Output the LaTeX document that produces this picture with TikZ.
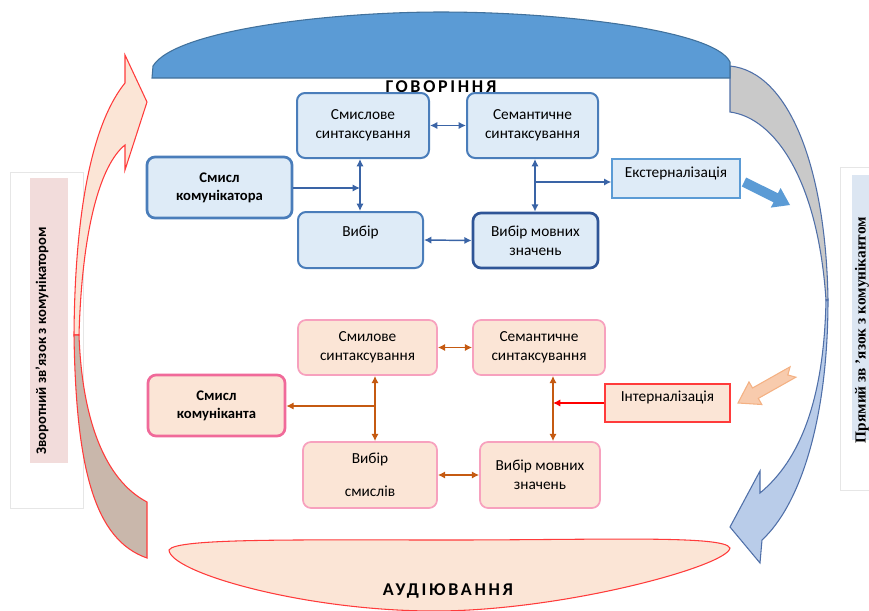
\documentclass[tikz,border=0pt]{standalone}
\usepackage{fontspec}
\setmainfont{Carlito}
\newfontfamily\serifface{Liberation Serif}
\newfontfamily\titleface[LetterSpace=15]{Carlito}
\usetikzlibrary{arrows.meta}
\definecolor{domefill}{HTML}{5B9BD5}
\definecolor{domeline}{HTML}{41719C}
\definecolor{ufill}{HTML}{DEEBF7}
\definecolor{ubord}{HTML}{4A7DBA}
\definecolor{ubordd}{HTML}{2F5597}
\definecolor{uline}{HTML}{3A64A6}
\definecolor{lfill}{HTML}{FBE5D6}
\definecolor{lbord}{HTML}{F7A1BE}
\definecolor{lbordd}{HTML}{F06A9A}
\definecolor{lline}{HTML}{C55A11}
\definecolor{redline}{HTML}{FF3B3B}
\definecolor{brownfill}{HTML}{C9B7AB}
\definecolor{greyfill}{HTML}{C9C9C9}
\definecolor{bluefill}{HTML}{B9CCE9}
\definecolor{arrline}{HTML}{4F6FA8}
\definecolor{pinkfill}{HTML}{F8CBAD}
\definecolor{pinkline}{HTML}{F4B183}
\definecolor{labpink}{HTML}{F2DCDB}
\definecolor{labblue}{HTML}{DCE6F2}
\definecolor{labline}{HTML}{E6E6E6}
\begin{document}
\begin{tikzpicture}[x=0.75pt,y=-0.75pt,
  boxfont/.style={font=\fontsize{11.5}{14.5}\selectfont},
  ubox/.style={draw=ubord, fill=ufill, line width=1.5pt, rounded corners=6pt, align=center, inner sep=0pt, boxfont},
  lbox/.style={draw=lbord, fill=lfill, line width=1.3pt, rounded corners=6pt, align=center, inner sep=0pt, boxfont},
  uarr/.style={draw=uline, line width=1.1pt, >={Latex[length=5.5pt,width=5.5pt]}},
  larr/.style={draw=lline, line width=1pt, >={Latex[length=5.5pt,width=5.5pt]}},
  title/.style={font=\titleface\bfseries\fontsize{13.5}{15}\selectfont}
]
\useasboundingbox (0,0) rectangle (869,611);

% side label boxes
\draw[labline, fill=white] (10,172) rectangle (83,508);
\fill[labpink] (30,178) rectangle (68,463);
\node[rotate=90, font=\bfseries\fontsize{11}{13}\selectfont] (lefttxt) at (42,341) {Зворотний зв’язок з комунікатором};
\draw[labline, fill=white] (840,167) rectangle (880,490);
\fill[labblue] (852,175) rectangle (869,440);
\node[rotate=90, font=\serifface\bfseries\fontsize{11.5}{13}\selectfont] (righttxt) at (862,330) {Прямий зв ’язок з комунікантом};

% left curved arrow
\draw[redline, line width=0.8pt, fill=lfill]
  (74,335) .. controls (75,200) and (95,120) .. (125,83)
  -- (125,55) -- (147,102) -- (125,170) -- (125,145)
  .. controls (100,165) and (82,230) .. (79,335) -- cycle;
\draw[redline, line width=0.8pt, fill=brownfill]
  (74,335) .. controls (76,470) and (95,540) .. (147,558)
  -- (147,502) .. controls (105,480) and (82,420) .. (79,335) -- cycle;

% right curved arrow
\draw[arrline, line width=0.8pt, fill=greyfill]
  (730,66) .. controls (790,72) and (826,170) .. (828,300)
  -- (826,300) .. controls (818,180) and (775,118) .. (730,112) -- cycle;
\draw[arrline, line width=0.8pt, fill=bluefill]
  (828,300) .. controls (828,420) and (800,505) .. (762,540)
  -- (760,563) -- (730,527) -- (760,471) -- (760,493)
  .. controls (800,460) and (824,400) .. (826,300) -- cycle;

% top dome
\draw[domeline, line width=0.8pt, fill=domefill]
  (152,78) -- (153,66) .. controls (175,30) and (330,12) .. (441,12)
  .. controls (560,12) and (715,30) .. (730,62) -- (730,78) -- cycle;
\node[title] (gov) at (441,87) {ГОВОРІННЯ};

% bottom shape
\draw[redline, line width=0.8pt, fill=lfill]
  (169,550) .. controls (175,538) and (300,540) .. (450,540)
  .. controls (600,540) and (725,535) .. (730,548)
  .. controls (728,566) and (560,612) .. (430,611)
  .. controls (300,610) and (170,572) .. (169,550) -- cycle;
\node[title] (aud) at (448,591) {АУДІЮВАННЯ};

% upper boxes
\node[ubox, minimum width=99pt, minimum height=48.75pt] (us1) at (363,125.5) {Смислове\\синтаксування};
\node[ubox, minimum width=98.25pt, minimum height=48.75pt] (us2) at (532.5,125.5) {Семантичне\\синтаксування};
\node[ubox, line width=2pt, minimum width=108.75pt, minimum height=45.75pt, font=\bfseries\fontsize{11}{13.5}\selectfont] (usm) at (219.5,187.5) {Смисл\\комунікатора};
\node[ubox, minimum width=93.75pt, minimum height=42pt, label={[boxfont, yshift=6pt]center:Вибір}] (uv) at (360.5,240) {};
\node[ubox, draw=ubordd, line width=2pt, minimum width=93.75pt, minimum height=41.25pt] (uvm) at (535.5,240.5) {Вибір мовних\\значень};
\node[draw=domefill, fill=ufill, line width=1pt, minimum width=96pt, minimum height=29.25pt, inner sep=0pt, label={[boxfont, yshift=4pt]center:Екстерналізація}] (ext) at (676,178.5) {};

% upper connectors
\coordinate (j1) at (360,188);
\coordinate (j2) at (535,182);
\draw[uarr, <->] (us1.east) -- (us2.west);
\draw[uarr, <->] (us1.south -| j1) -- (uv.north -| j1);
\draw[uarr, ->] (usm.east |- j1) -- (j1);
\draw[uarr, <->] (us2.south -| j2) -- (uvm.north -| j2);
\draw[uarr, ->] (j2) -- (ext.west |- j2);
\draw[uarr, <->] (uv.east) -- (uvm.west);

% externalisation block arrow
\fill[domefill] (746.2,177.5) -- (777.9,193.3) -- (780.6,188) -- (790,205)
  -- (770.8,207.6) -- (773.5,202.3) -- (741.8,186.5) -- cycle;

% lower boxes
\node[lbox, minimum width=104.25pt, minimum height=41.25pt] (ls1) at (367.5,347.5) {Смилове\\синтаксування};
\node[lbox, minimum width=99pt, minimum height=41.25pt] (ls2) at (539,347.5) {Семантичне\\синтаксування};
\node[lbox, draw=lbordd, line width=2pt, minimum width=102.75pt, minimum height=45.75pt, font=\bfseries\fontsize{11}{13.5}\selectfont] (lsm) at (216.5,405.5) {Смисл\\комуніканта};
\node[lbox, minimum width=100.5pt, minimum height=49.5pt] (lv) at (370,475) {Вибір\\[10pt]смислів};
\node[lbox, minimum width=90pt, minimum height=49.5pt] (lvm) at (540,475) {Вибір мовних\\значень};
\node[draw=redline, fill=lfill, line width=1.2pt, minimum width=93.75pt, minimum height=28.5pt, inner sep=0pt, label={[boxfont, yshift=4.5pt]center:Інтерналізація}] (int) at (667.5,403) {};

% lower connectors
\coordinate (j3) at (375,406);
\coordinate (j4) at (553,403);
\draw[larr, <->] (ls1.east) -- (ls2.west);
\draw[larr, <->] (ls1.south -| j3) -- (lv.north -| j3);
\draw[larr, ->] (j3) -- (lsm.east |- j3);
\draw[larr, <->] (ls2.south -| j4) -- (lvm.north -| j4);
\draw[draw=red, line width=1pt, >={Latex[length=5.5pt,width=5.5pt]}, ->] (int.west) -- (j4);
\draw[larr, <->] (lv.east) -- (lvm.west);

% internalisation block arrow
\draw[pinkline, line width=0.8pt, fill=pinkfill] (790.1,366.8) -- (752.5,388) -- (749,381.9) -- (738,403)
  -- (761.8,404.5) -- (758.3,398.4) -- (795.9,377.2) -- (787.8,374.9) -- cycle;
\end{tikzpicture}
\end{document}
